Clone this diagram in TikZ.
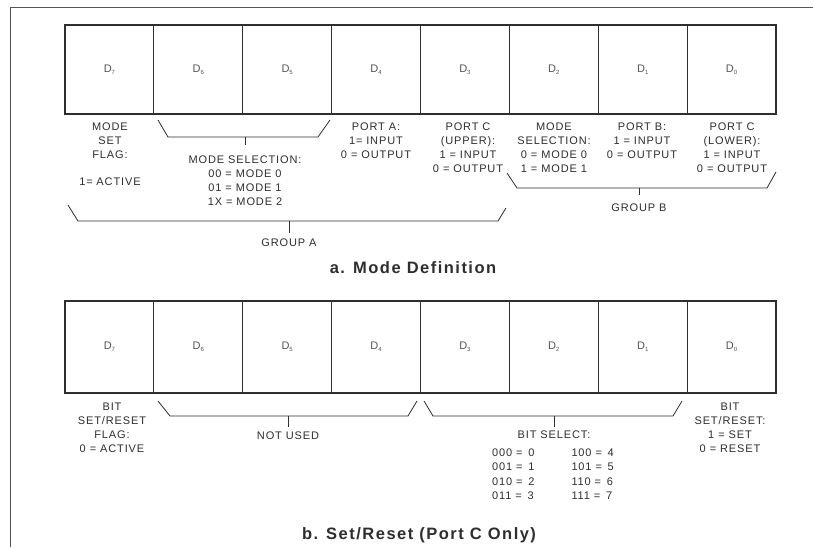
\documentclass[tikz,border=0pt]{standalone}
\usepackage{fontspec}
\newfontfamily\lab[LetterSpace=8]{Liberation Sans}
\newfontfamily\ttl[LetterSpace=9]{Liberation Sans}
\definecolor{ink}{HTML}{2E2E2E}
\definecolor{lightink}{HTML}{555555}
\begin{document}
\begin{tikzpicture}[x=1pt,y=-1pt,
  cellbox/.style={draw=ink,line width=1.1pt,minimum width=88.875pt,inner sep=0pt,outer sep=0pt,anchor=north west,
    text=lightink,font={\fontsize{11}{12}\selectfont\lab}},
  lbl/.style={anchor=north,align=center,inner sep=0pt,text=ink,font={\fontsize{11}{14}\selectfont\lab}},
  brace/.style={draw=ink,line width=0.8pt},
  titlestyle/.style={inner sep=0pt,text=ink,font={\fontsize{16.5}{18}\selectfont\bfseries\ttl}}]
\useasboundingbox (0,0) rectangle (813,547);
\fill[white] (0,0) rectangle (813,547);
% outer frame
\coordinate (fbl) at (10,547);
\coordinate (ftl) at (10,7);
\coordinate (ftr) at (813,7);
\draw[draw=lightink,line width=1pt] (fbl) -- (ftl) -- (ftr);
\newcommand{\dl}[1]{D\raisebox{-1.8pt}{\fontsize{6}{6}\selectfont #1}}
% register a
\foreach \i/\b in {0/7,1/6,2/5,3/4,4/3,5/2,6/1,7/0}{
  \node[cellbox,minimum height=89pt] (a\b) at ({65+\i*88.875},25) {\dl{\b}};
}
% register b
\foreach \i/\b in {0/7,1/6,2/5,3/4,4/3,5/2,6/1,7/0}{
  \node[cellbox,minimum height=92pt] (b\b) at ({65+\i*88.875},301) {\dl{\b}};
}
% ---- part a labels
\node[lbl] (msf) at (110,123) {MODE\\SET\\FLAG:};
\node[lbl] (msfa) at (110,178) {1=\,\,ACTIVE};
\node[lbl] (ms) at (245,156) {MODE SELECTION:\\00 = MODE 0\\01 = MODE 1\\1X = MODE 2};
\node[lbl] (pa) at (376,123) {PORT A:\\1=\,\,INPUT\\0 = OUTPUT};
\node[lbl] (pcu) at (468,123) {PORT C\\(UPPER):\\1 = INPUT\\0 = OUTPUT};
\node[lbl] (msb) at (554,123) {MODE\\SELECTION:\\0 = MODE 0\\1 = MODE 1};
\node[lbl] (pb) at (642,123) {PORT B:\\1 = INPUT\\0 = OUTPUT};
\node[lbl] (pcl) at (732,123) {PORT C\\(LOWER):\\1 = INPUT\\0 = OUTPUT};
\node[lbl] (gb) at (639,204) {GROUP B};
\node[lbl] (ga) at (289,239) {GROUP A};
\node[titlestyle] (ta) at (413,268) {a. Mode Definition};
% braces a
\coordinate (m1) at (158,120); \coordinate (m2) at (168,137); \coordinate (m3) at (318,137); \coordinate (m4) at (330,120);
\coordinate (mt) at (245,137); \coordinate (mte) at (245,145);
\draw[brace] (m1) -- (m2) -- (m3) -- (m4); \draw[brace] (mt) -- (mte);
\coordinate (g1) at (507,173); \coordinate (g2) at (517,188); \coordinate (g3) at (767,188); \coordinate (g4) at (776,172);
\coordinate (gt) at (639,188); \coordinate (gte) at (639,195);
\draw[brace] (g1) -- (g2) -- (g3) -- (g4); \draw[brace] (gt) -- (gte);
\coordinate (h1) at (68,205); \coordinate (h2) at (78,221); \coordinate (h3) at (498,221); \coordinate (h4) at (506,208);
\coordinate (ht) at (289,221); \coordinate (hte) at (289,233);
\draw[brace] (h1) -- (h2) -- (h3) -- (h4); \draw[brace] (ht) -- (hte);
% ---- part b labels
\node[lbl] (bsr) at (112,403) {BIT\\SET/RESET\\FLAG:\\0 = ACTIVE};
\node[lbl] (nu) at (288,432) {NOT USED};
\node[lbl] (bs) at (554,431) {BIT SELECT:};
\node[lbl] (bst) at (553,446) {\begin{tabular}{@{}l@{\hspace{37pt}}l@{}}000 = \,0 & 100 = \,4\\[0.6pt]001 = \,1 & 101 = \,5\\[0.6pt]010 = \,2 & 110 = \,6\\[0.6pt]011 = \,3 & 111 = \,7\end{tabular}};
\node[lbl] (bsr0) at (730,403) {BIT\\SET/RESET:\\1 = SET\\0 = RESET};
\node[titlestyle] (tb) at (419,535) {b. Set/Reset (Port C Only)};
% braces b
\coordinate (n1) at (158,401); \coordinate (n2) at (170,416); \coordinate (n3) at (408,416); \coordinate (n4) at (417,401);
\coordinate (nt) at (288,416); \coordinate (nte) at (288,427);
\draw[brace] (n1) -- (n2) -- (n3) -- (n4); \draw[brace] (nt) -- (nte);
\coordinate (s1) at (424,401); \coordinate (s2) at (433,416); \coordinate (s3) at (673,416); \coordinate (s4) at (682,401);
\coordinate (st) at (554,416); \coordinate (ste) at (554,427);
\draw[brace] (s1) -- (s2) -- (s3) -- (s4); \draw[brace] (st) -- (ste);
\end{tikzpicture}
\end{document}
